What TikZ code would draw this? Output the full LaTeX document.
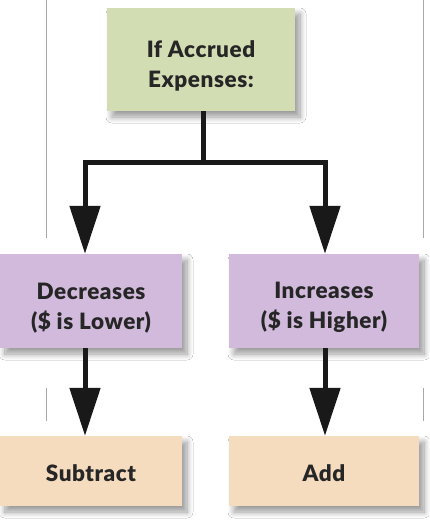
\documentclass[tikz,border=0pt]{standalone}
\usepackage{fontspec}
\setmainfont{Lato}[BoldFont={Lato Black},BoldFeatures={LetterSpace=2.5}]
\usetikzlibrary{arrows.meta,shadows.blur}
\definecolor{topgreen}{HTML}{D3DDB4}
\definecolor{midpurple}{HTML}{D1BADB}
\definecolor{botorange}{HTML}{F5DCBE}
\definecolor{sidegray}{HTML}{A8A8A8}
\newcommand{\lowertext}[1]{\rule{0pt}{#1}}
\begin{document}
\begin{tikzpicture}[x=1pt,y=-1pt,
  boxstyle/.style={inner sep=0pt, align=center, font=\fontsize{22.5}{30}\selectfont\bfseries, text=black!85,
     blur shadow={shadow xshift=5pt, shadow yshift=-6pt, shadow blur steps=10, shadow blur radius=6pt, shadow opacity=40}},
  flow/.style={line width=5pt, draw=black!90, -{Triangle[width=30pt,length=48pt]}},
  side/.style={draw=sidegray, line width=1pt}]
\useasboundingbox (0,0) rectangle (429,522);
\fill[white] (0,0) rectangle (429,522);
% side rules
\draw[side] (46,0) -- (46,238);
\draw[side] (423,0) -- (423,238);
\draw[side] (46,388) -- (46,421);
\draw[side] (423,388) -- (423,421);
% boxes
\node[boxstyle, fill=topgreen, minimum width=188pt, minimum height=103pt] (top) at (201,59.5) {\lowertext{30pt}If Accrued\\Expenses:};
\node[boxstyle, fill=midpurple, minimum width=182pt, minimum height=94pt] (dec) at (91,301) {\lowertext{30pt}Decreases\\(\$ is Lower)};
\node[boxstyle, fill=midpurple, minimum width=190pt, minimum height=94pt] (inc) at (324,301) {\lowertext{30pt}Increases\\(\$ is Higher)};
\node[boxstyle, fill=botorange, minimum width=182pt, minimum height=70pt] (sub) at (91,471) {\lowertext{22pt}Subtract};
\node[boxstyle, fill=botorange, minimum width=190pt, minimum height=70pt] (add) at (324,471) {\lowertext{22pt}Add};
% connectors
\coordinate (split) at (203,162);
\draw[line width=5pt, draw=black!90] (top.south -| split) -- (split);
\draw[flow] (split) -| ([xshift=-6pt]dec.north);
\draw[flow] (split) -| ([xshift=1pt]inc.north);
\draw[flow] ([xshift=-6pt]dec.south) -- ([xshift=-6pt]sub.north);
\draw[flow] ([xshift=1pt]inc.south) -- ([xshift=1pt]add.north);
\end{tikzpicture}
\end{document}
